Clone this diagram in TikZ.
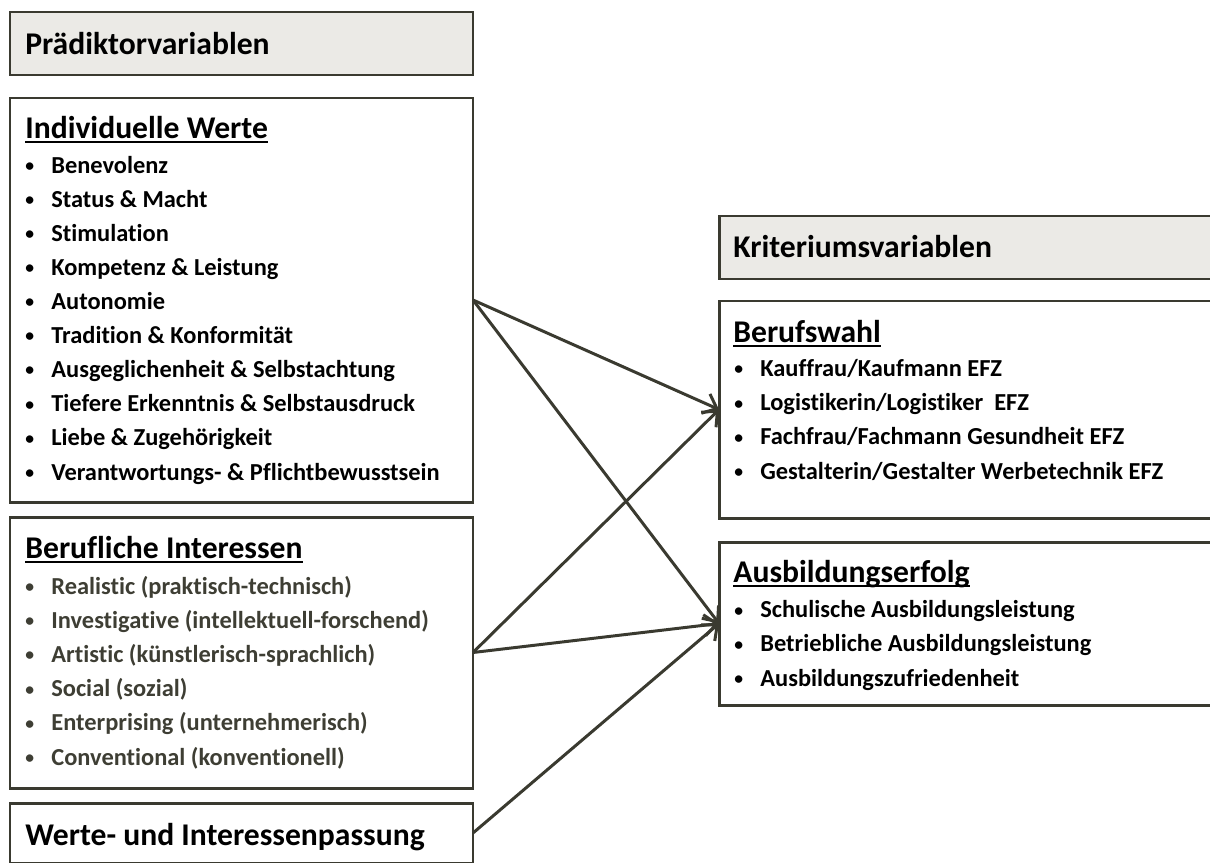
\documentclass[tikz,border=0pt]{standalone}
\usepackage{fontspec}
\setmainfont{Carlito}[Ligatures=NoCommon]
\usetikzlibrary{arrows.meta}

\newlength\pxu
\setlength\pxu{0.02cm}
\definecolor{boxline}{RGB}{58,58,48}
\definecolor{boxfill}{RGB}{235,234,230}
\definecolor{itemgray}{RGB}{62,62,52}

% underlined heading, rule at a fixed depth below the baseline
\newcommand\ulhead[1]{\setbox0\hbox{#1}\rlap{\rule[-2.7pt]{\wd0}{1.1pt}}\box0}
% one bullet line
\newcommand\itm[1]{\makebox[26\pxu][l]{\raisebox{1pt}{\scalebox{0.72}{\textbullet}}}#1}

\begin{document}
\begin{tikzpicture}[x=0.02cm, y=-0.02cm,
    box/.style={draw=boxline, line width=1.7pt, inner sep=0pt, outer sep=0pt, anchor=north west},
    titlebox/.style={box, fill=boxfill},
    head/.style={inner sep=0pt, anchor=base west, font=\fontsize{18pt}{20pt}\selectfont\bfseries},
    list/.style={inner sep=0pt, anchor=base west, align=left, font=\fontsize{13.9pt}{34.1\pxu}\selectfont\bfseries},
    arr/.style={draw=boxline, line width=1.7pt, -{Straight Barb[length=7pt, width=12pt]}}]
    \useasboundingbox (0,0) rectangle (1210,862);

    % Predictors (left); list nodes sit on the baseline of their last line
    \node[titlebox, minimum width=463\pxu, minimum height=63\pxu] (pv) at (10,12) {};
    \node[head] (pvhead) at (25,54) {Prädiktorvariablen};

    \node[box, minimum width=463\pxu, minimum height=404\pxu] (iw) at (10,98) {};
    \node[head] (iwhead) at (25,138) {\ulhead{Individuelle Werte}};
    \node[list] (iwlist) at (25,480) {\itm{Benevolenz}\\ \itm{Status \& Macht}\\ \itm{Stimulation}\\
        \itm{Kompetenz \& Leistung}\\ \itm{Autonomie}\\ \itm{Tradition \& Konformität}\\
        \itm{Ausgeglichenheit \& Selbstachtung}\\ \itm{Tiefere Erkenntnis \& Selbstausdruck}\\
        \itm{Liebe \& Zugehörigkeit}\\ \itm{Verantwortungs- \& Pflichtbewusstsein}};

    \node[box, minimum width=463\pxu, minimum height=271\pxu] (bi) at (10,517) {};
    \node[head] (bihead) at (25,558) {\ulhead{Berufliche Interessen}};
    \node[list, text=itemgray] (bilist) at (25,765) {\itm{Realistic (praktisch-technisch)}\\
        \itm{Investigative (intellektuell-forschend)}\\ \itm{Artistic (künstlerisch-sprachlich)}\\
        \itm{Social (sozial)}\\ \itm{Enterprising (unternehmerisch)}\\ \itm{Conventional (konventionell)}};

    \node[box, minimum width=463\pxu, minimum height=60\pxu] (wip) at (10,803) {};
    \node[head] (wiphead) at (25,845) {Werte- und Interessenpassung};

    % Criteria (right)
    \node[titlebox, minimum width=530\pxu, minimum height=63\pxu] (kv) at (719,216) {};
    \node[head] (kvhead) at (733,257) {Kriteriumsvariablen};

    \node[box, minimum width=530\pxu, minimum height=217\pxu] (bw) at (719,301) {};
    \node[head] (bwhead) at (733,342) {\ulhead{Berufswahl}};
    \node[list] (bwlist) at (734,479) {\itm{Kauffrau/Kaufmann EFZ}\\ \itm{Logistikerin/Logistiker\ \ EFZ}\\
        \itm{Fachfrau/Fachmann Gesundheit EFZ}\\ \itm{Gestalterin/Gestalter Werbetechnik EFZ}};

    \node[box, minimum width=530\pxu, minimum height=163\pxu] (ae) at (719,542) {};
    \node[head] (aehead) at (733,582) {\ulhead{Ausbildungserfolg}};
    \node[list] (aelist) at (734,686) {\itm{Schulische Ausbildungsleistung}\\
        \itm{Betriebliche Ausbildungsleistung}\\ \itm{Ausbildungszufriedenheit}};

    % Paths
    \draw[arr] (iw.east) -- (bw.west);
    \draw[arr] (iw.east) -- (ae.west);
    \draw[arr] (bi.east) -- (bw.west);
    \draw[arr] (bi.east) -- (ae.west);
    \draw[arr] (wip.east) -- (ae.west);
\end{tikzpicture}
\end{document}
